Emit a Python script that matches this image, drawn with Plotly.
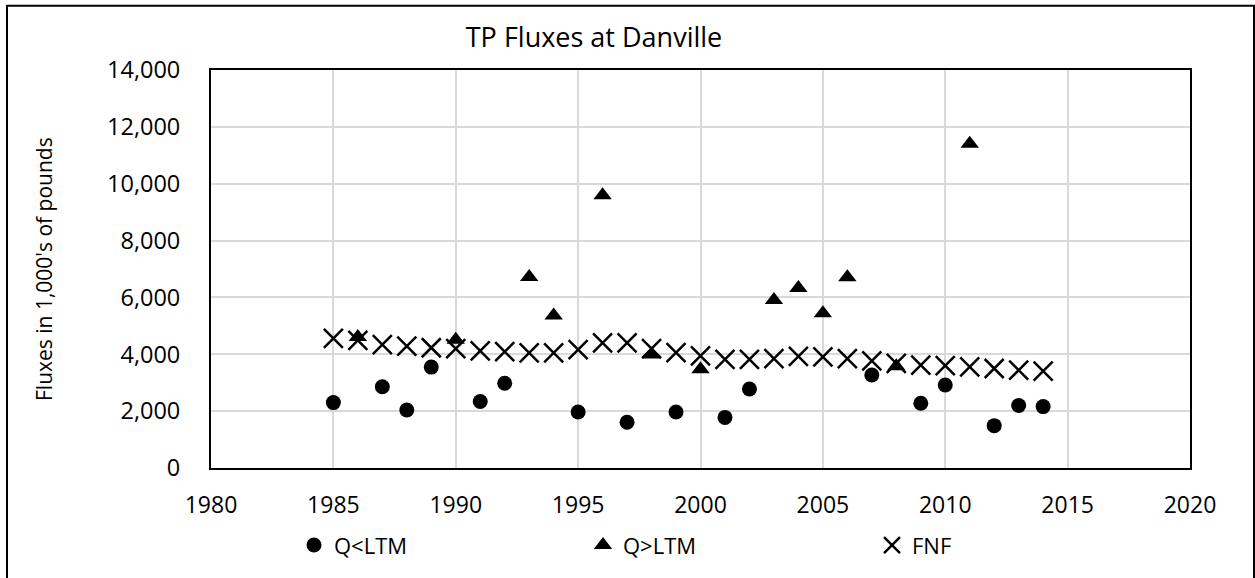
import plotly.graph_objects as go

title_text = "TP Fluxes at Danville"
y_title = "Fluxes in 1,000's of pounds"

years_low = [1985, 1987, 1988, 1989, 1991, 1992, 1995, 1997, 1999, 2001, 2002, 2007, 2009, 2010, 2012, 2013, 2014]
flux_low = [2300, 2860, 2040, 3550, 2340, 2980, 1970, 1610, 1970, 1780, 2780, 3270, 2280, 2920, 1490, 2200, 2160]

years_high = [1986, 1990, 1993, 1994, 1996, 1998, 2000, 2003, 2004, 2005, 2006, 2008, 2011]
flux_high = [4610, 4510, 6720, 5360, 9590, 3990, 3470, 5910, 6330, 5440, 6710, 3580, 11410]

years_fnf = list(range(1985, 2015))
flux_fnf = [4560, 4490, 4340, 4290, 4230, 4200, 4120, 4090, 4050, 4050,
            4160, 4400, 4400, 4200, 4060, 3940, 3820, 3820, 3850, 3930,
            3910, 3850, 3770, 3680, 3620, 3600, 3560, 3500, 3440, 3410]

x_ticks = [1980, 1985, 1990, 1995, 2000, 2005, 2010, 2015, 2020]
y_ticks = [0, 2000, 4000, 6000, 8000, 10000, 12000, 14000]

FONT = "Open Sans"
W, H = 1255, 578
L, R, T, B = 211, 65, 70, 106
PW, PH = W - L - R, H - T - B

fig = go.Figure()
fig.add_trace(go.Scatter(x=years_low, y=flux_low, mode="markers", name="Q<LTM",
                         marker=dict(symbol="circle", size=15, color="black", line=dict(width=0))))
fig.add_trace(go.Scatter(x=years_high, y=flux_high, mode="markers", name="Q>LTM",
                         marker=dict(symbol="triangle-up", size=16, color="black", line=dict(width=0))))
fig.add_trace(go.Scatter(x=years_fnf, y=flux_fnf, mode="markers", name="FNF",
                         marker=dict(symbol="x-thin", size=19, color="black",
                                     line=dict(width=2.5, color="black"))))

def px_x(p):
    return (p - L) / PW

def px_y(p):
    return (H - B - p) / PH

fig.update_layout(
    width=W, height=H,
    margin=dict(l=L, r=R, t=T, b=B),
    paper_bgcolor="white", plot_bgcolor="white",
    font=dict(family=FONT, color="black"),
    title=dict(text=title_text, x=px_x(594), xref="paper", xanchor="center",
               y=1 - 38 / H, yref="container", yanchor="middle",
               font=dict(family=FONT, size=27, color="black")),
    xaxis=dict(range=[1980, 2020], tickvals=x_ticks, ticktext=[str(v) for v in x_ticks],
               showgrid=True, gridcolor="#d9d9d9", gridwidth=1.5,
               showline=True, linecolor="black", linewidth=2, mirror=True,
               zeroline=False, ticks="", ticklabelstandoff=15,
               tickfont=dict(family=FONT, size=23, color="black")),
    yaxis=dict(range=[0, 14000], tickvals=y_ticks, ticktext=[f"{v:,}" for v in y_ticks],
               showgrid=True, gridcolor="#d9d9d9", gridwidth=1.5,
               showline=True, linecolor="black", linewidth=2, mirror=True,
               zeroline=False, ticks="", ticklabelstandoff=24,
               tickfont=dict(family=FONT, size=23.5, color="black")),
    legend=dict(orientation="h", x=px_x(294), xanchor="left", y=px_y(550), yanchor="middle",
                entrywidth=244, entrywidthmode="pixels",
                font=dict(family=FONT, size=22, color="black"), bgcolor="rgba(0,0,0,0)"),
    showlegend=True,
)

fig.add_annotation(text=y_title, textangle=-90, xref="paper", yref="paper",
                   x=px_x(44), y=0.5, xanchor="center", yanchor="middle", showarrow=False,
                   font=dict(family=FONT, size=21, color="black"))

fig.add_shape(type="rect", xref="paper", yref="paper",
              x0=px_x(7), x1=px_x(1254), y0=px_y(590), y1=px_y(5),
              line=dict(color="black", width=2), fillcolor="rgba(0,0,0,0)", layer="below")

fig.write_html("out.html", config={"displayModeBar": False},
               post_script="document.body.style.margin='0';")
